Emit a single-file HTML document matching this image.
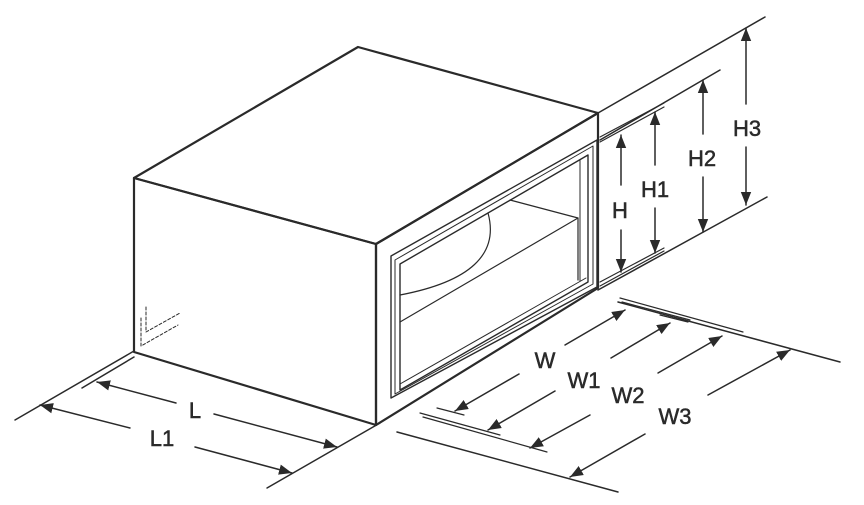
<!DOCTYPE html>
<html><head><style>html,body{margin:0;padding:0;background:#fff}svg{display:block}</style></head><body>
<svg width="864" height="505" viewBox="0 0 864 505" xmlns="http://www.w3.org/2000/svg">
<defs>
<marker id="a" viewBox="0 0 10 10" refX="10" refY="5" markerWidth="13" markerHeight="13" markerUnits="userSpaceOnUse" orient="auto"><path d="M0,1 L10,5 L0,9 z" fill="#2a2a2a"/></marker>
</defs>
<g stroke="#2a2a2a" fill="none" stroke-linecap="round" stroke-linejoin="round">
<polygon points="134,178 358,47 598,113 376,244" stroke-width="2.2"/>
<polygon points="134,178 376,244 376,425 134,352" stroke-width="2.2"/>
<polygon points="376,244 598,113 598,288 376,425" stroke-width="2.2"/>
<polygon points="391,256 597,140 597,287 391,398" stroke-width="1.4"/>
<polygon points="395,260 593,146 593,284 395,394" stroke-width="1"/>
<polygon points="400,264 588,155 588,282 400,390" stroke-width="1.4"/>
<line x1="580" y1="160" x2="580" y2="281" stroke-width="1"/>
<line x1="400" y1="384" x2="586" y2="278" stroke-width="1"/>
<polyline points="510,200 578,218 578,280" stroke-width="1.2"/>
<line x1="578" y1="218" x2="400" y2="322" stroke-width="1.2"/>
<path d="M488,213 Q505,275 400,295" stroke-width="1.2"/>
<g stroke-dasharray="3,2" stroke-width="1">
<polyline points="146,307 146,332 180,313"/>
<polyline points="141,318 141,346 178,325"/>
</g>
<line x1="598" y1="113" x2="765" y2="17" stroke-width="1.5"/>
<line x1="598" y1="290" x2="767" y2="197" stroke-width="1.5"/>
<line x1="600" y1="140" x2="720" y2="70" stroke-width="1.5"/>
<line x1="600" y1="137" x2="664" y2="103" stroke-width="1.2"/>
<line x1="600" y1="142" x2="664" y2="107" stroke-width="1.2"/>
<line x1="600" y1="282" x2="664" y2="248" stroke-width="1.2"/>
<line x1="600" y1="286" x2="664" y2="251" stroke-width="1.2"/>
<g stroke-width="1.5">
<line x1="621" y1="185" x2="621" y2="135" marker-end="url(#a)"/>
<line x1="621" y1="230" x2="621" y2="272" marker-end="url(#a)"/>
<line x1="655" y1="165" x2="655" y2="112" marker-end="url(#a)"/>
<line x1="655" y1="208" x2="655" y2="253" marker-end="url(#a)"/>
<line x1="703" y1="134" x2="703" y2="80" marker-end="url(#a)"/>
<line x1="703" y1="177" x2="703" y2="232" marker-end="url(#a)"/>
<line x1="746" y1="104" x2="746" y2="28" marker-end="url(#a)"/>
<line x1="746" y1="147" x2="746" y2="205" marker-end="url(#a)"/>
</g>
<line x1="15" y1="420" x2="134" y2="351" stroke-width="1.5"/>
<line x1="82" y1="388" x2="134" y2="357" stroke-width="1.5"/>
<line x1="267" y1="488" x2="380" y2="423" stroke-width="1.5"/>
<g stroke-width="1.5">
<line x1="176" y1="403" x2="97" y2="382" marker-end="url(#a)"/>
<line x1="214" y1="414" x2="337" y2="447" marker-end="url(#a)"/>
<line x1="130" y1="428" x2="40" y2="405" marker-end="url(#a)"/>
<line x1="195" y1="447" x2="292" y2="473" marker-end="url(#a)"/>
</g>
<line x1="397" y1="432" x2="618" y2="492" stroke-width="1.5"/>
<line x1="423" y1="417" x2="547" y2="452" stroke-width="1.2"/>
<line x1="420" y1="413" x2="500" y2="435" stroke-width="1.2"/>
<line x1="437" y1="408" x2="464" y2="415" stroke-width="1.2"/>
<line x1="618" y1="302" x2="840" y2="362" stroke-width="1.5"/>
<line x1="620" y1="298" x2="743" y2="332" stroke-width="1.2"/>
<line x1="622" y1="302" x2="690" y2="320" stroke-width="1.2"/>
<line x1="660" y1="315" x2="688" y2="322" stroke-width="1.2"/>
<g stroke-width="1.5">
<line x1="565" y1="345" x2="625" y2="310" marker-end="url(#a)"/>
<line x1="519" y1="374" x2="455" y2="411" marker-end="url(#a)"/>
<line x1="611" y1="358" x2="670" y2="323" marker-end="url(#a)"/>
<line x1="555" y1="391" x2="488" y2="430" marker-end="url(#a)"/>
<line x1="658" y1="373" x2="722" y2="336" marker-end="url(#a)"/>
<line x1="590" y1="415" x2="530" y2="448" marker-end="url(#a)"/>
<line x1="708" y1="395" x2="790" y2="350" marker-end="url(#a)"/>
<line x1="645" y1="434" x2="570" y2="477" marker-end="url(#a)"/>
</g>
</g>
<g font-family="Liberation Sans, sans-serif" font-size="22" fill="#2a2a2a" stroke="#2a2a2a" stroke-width="0.5" text-anchor="middle">
<text x="620" y="218">H</text>
<text x="655" y="197">H1</text>
<text x="702" y="166">H2</text>
<text x="747" y="136">H3</text>
<text x="195" y="418">L</text>
<text x="162" y="446">L1</text>
<text x="545" y="368">W</text>
<text x="584" y="388">W1</text>
<text x="628" y="403">W2</text>
<text x="675" y="424">W3</text>
</g>
</svg>
</body></html>
